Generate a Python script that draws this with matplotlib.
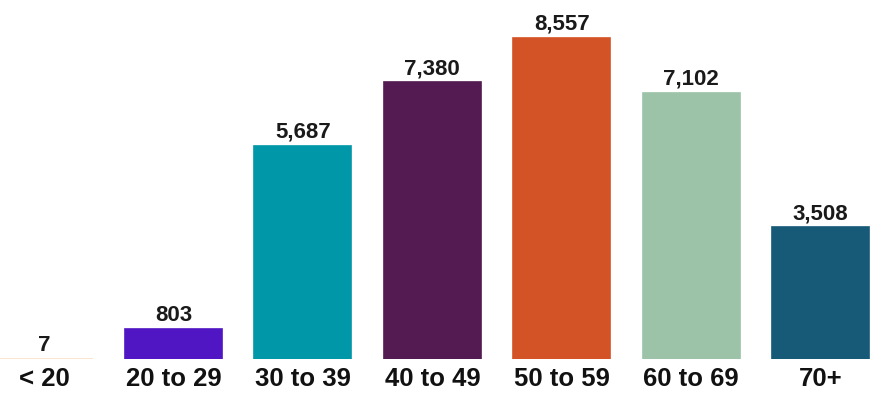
import matplotlib.pyplot as plt

categories = ["< 20", "20 to 29", "30 to 39", "40 to 49", "50 to 59", "60 to 69", "70+"]
values = [7, 803, 5687, 7380, 8557, 7102, 3508]
colors = ["#FBE0C6", "#5016C4", "#0097A8", "#541B52", "#D45326", "#9CC3A7", "#175A78"]

plt.rcParams['font.family'] = ['Liberation Sans', 'DejaVu Sans']

fig = plt.figure(figsize=(8.75, 3.93), dpi=100)
ax = fig.add_axes([0, 34 / 393, 1, 359 / 393])

x = range(len(categories))
ax.bar(x, values, width=0.75, color=colors, edgecolor=colors, linewidth=1.2)

# value labels above bars
for xi, v in zip(x, values):
    ax.annotate(f"{v:,}", (xi, v), xytext=(0, 5.8), textcoords='offset points',
                ha='center', va='baseline', fontsize=16, fontweight='bold',
                color='#1a1a1a')

ax.set_xlim(-0.34, 6.42)
ax.set_ylim(0, 9570)
ax.set_xticks(list(x))
ax.set_xticklabels(categories, fontsize=18.5, fontweight='bold', color='#111111')
ax.tick_params(axis='x', length=0, pad=6)
ax.set_yticks([])
for s in ax.spines.values():
    s.set_visible(False)

fig.savefig("out.png", dpi=100)
